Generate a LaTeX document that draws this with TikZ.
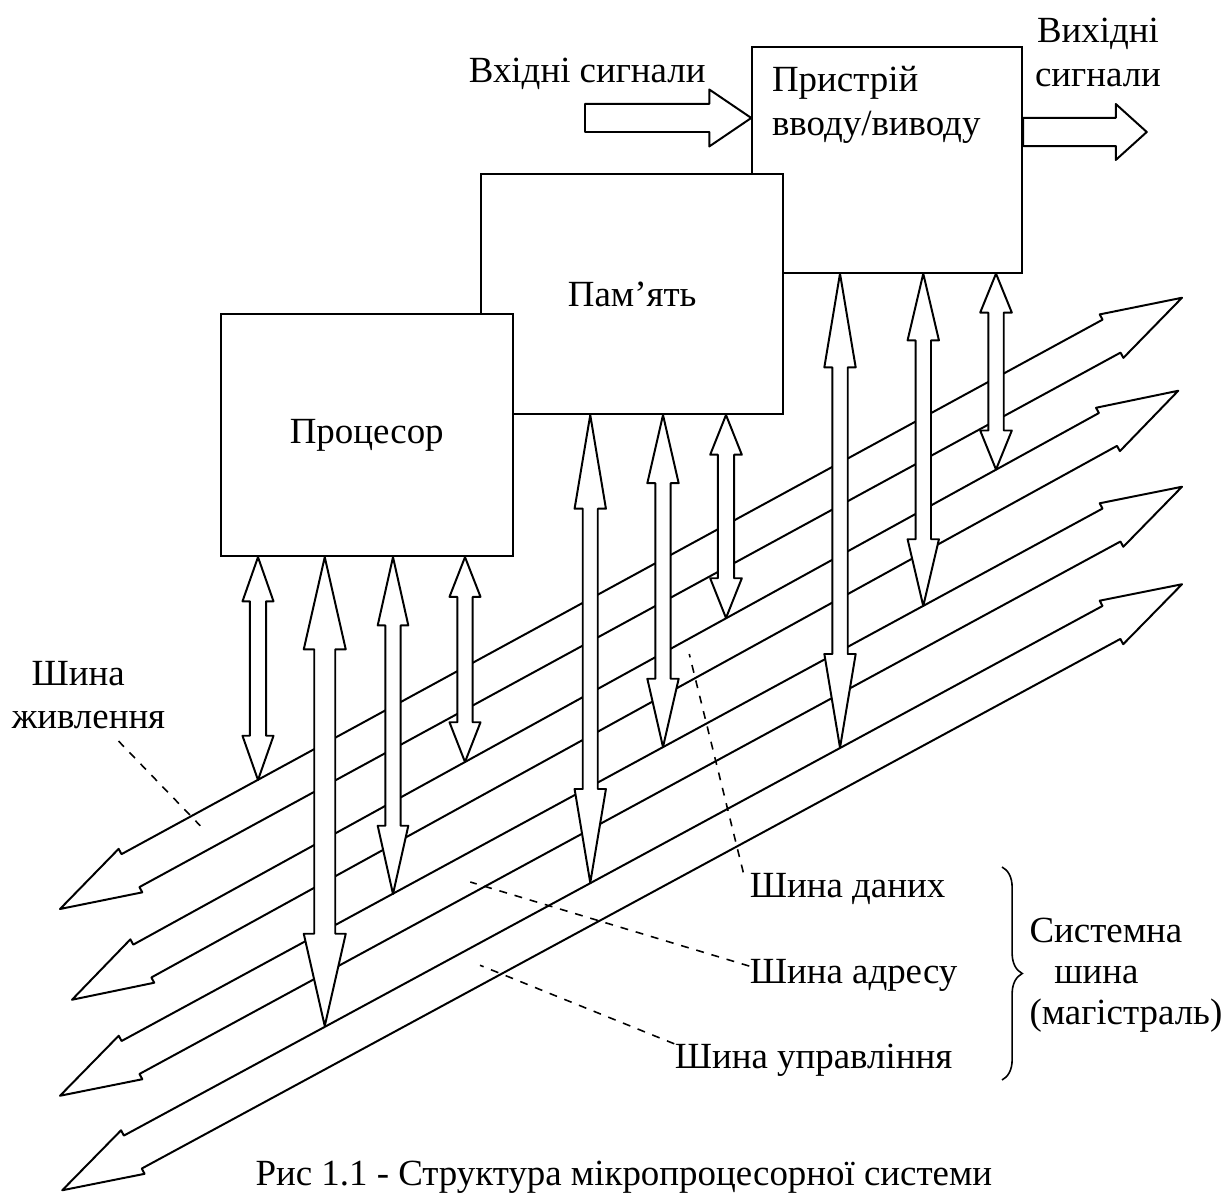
\documentclass[tikz,border=0pt]{standalone}
\usepackage{fontspec}
\setmainfont{Liberation Serif}
\usetikzlibrary{calc, positioning, decorations.pathreplacing}

% hollow double-headed block arrow: from, to, half shaft, half head, head length
\newcommand{\dblarrow}[5]{%
  \draw[blockarr] let \p1=($(#2)-(#1)$), \n1={atan2(\y1,\x1)} in
    (#1) -- ($(#1)+(\n1:#5)+(\n1+90:#4)$) -- ($(#1)+(\n1:#5)+(\n1+90:#3)$)
    -- ($(#2)+(\n1:-#5)+(\n1+90:#3)$) -- ($(#2)+(\n1:-#5)+(\n1+90:#4)$)
    -- (#2) -- ($(#2)+(\n1:-#5)+(\n1-90:#4)$) -- ($(#2)+(\n1:-#5)+(\n1-90:#3)$)
    -- ($(#1)+(\n1:#5)+(\n1-90:#3)$) -- ($(#1)+(\n1:#5)+(\n1-90:#4)$) -- cycle;
}
% hollow single-headed block arrow: from, to, half shaft, half head, head length
\newcommand{\sglarrow}[5]{%
  \draw[blockarr] let \p1=($(#2)-(#1)$), \n1={atan2(\y1,\x1)} in
    ($(#1)+(\n1+90:#3)$) -- ($(#2)+(\n1:-#5)+(\n1+90:#3)$) -- ($(#2)+(\n1:-#5)+(\n1+90:#4)$)
    -- (#2) -- ($(#2)+(\n1:-#5)+(\n1-90:#4)$) -- ($(#2)+(\n1:-#5)+(\n1-90:#3)$)
    -- ($(#1)+(\n1-90:#3)$) -- cycle;
}

\begin{document}
\begin{tikzpicture}[
    font=\fontsize{14}{16.5}\selectfont,
    box/.style={rectangle, draw, line width=0.75pt, fill=white},
    blockarr/.style={draw, line width=0.75pt, fill=white, line join=round},
    lbl/.style={inner sep=0pt},
    leader/.style={dashed, line width=0.6pt}
]
\useasboundingbox (0,0) rectangle (16.4,-15.933);

% System bus
\coordinate (pwrl) at (0.8,-12.12);   \coordinate (pwrr) at (15.76,-3.97);
\coordinate (datal) at (0.96,-13.33); \coordinate (datar) at (15.71,-5.21);
\coordinate (addrl) at (0.8,-14.61);  \coordinate (addrr) at (15.76,-6.49);
\coordinate (ctrll) at (0.83,-15.87); \coordinate (ctrlr) at (15.76,-7.79);

\dblarrow{pwrl}{pwrr}{0.25}{0.33}{1.07}
\dblarrow{datal}{datar}{0.25}{0.33}{1.07}
\dblarrow{addrl}{addrr}{0.25}{0.33}{1.07}
\dblarrow{ctrll}{ctrlr}{0.25}{0.33}{1.07}

% Blocks
\node[box, minimum width=3.6cm, minimum height=3.01cm] (io) at (11.83,-2.13) {};
\node[box, minimum width=4.03cm, minimum height=3.2cm] (mem) at (8.43,-3.92) {Пам’ять};
\node[box, minimum width=3.89cm, minimum height=3.23cm] (proc) at (4.89,-5.8) {Процесор};
\node[lbl, align=left, below right=0.27cm and 0.27cm of io.north west] (iotxt) {Пристрій\\вводу/виводу};

% Processor links
\coordinate (p1s) at (3.44,0 |- proc.south);  \coordinate (p1e) at (3.44,-10.4);
\coordinate (p2s) at (4.33,0 |- proc.south);  \coordinate (p2e) at (4.33,-13.68);
\coordinate (p3s) at (5.24,0 |- proc.south);  \coordinate (p3e) at (5.24,-11.92);
\coordinate (p4s) at (6.2,0 |- proc.south);   \coordinate (p4e) at (6.2,-10.16);
\dblarrow{p1s}{p1e}{0.107}{0.207}{0.59}
\dblarrow{p2s}{p2e}{0.14}{0.28}{1.23}
\dblarrow{p3s}{p3e}{0.103}{0.204}{0.91}
\dblarrow{p4s}{p4e}{0.103}{0.207}{0.53}

% Memory links
\coordinate (m1s) at (7.87,0 |- mem.south);   \coordinate (m1e) at (7.87,-11.77);
\coordinate (m2s) at (8.84,0 |- mem.south);   \coordinate (m2e) at (8.84,-9.96);
\coordinate (m3s) at (9.68,0 |- mem.south);   \coordinate (m3e) at (9.68,-8.24);
\dblarrow{m1s}{m1e}{0.1}{0.209}{1.25}
\dblarrow{m2s}{m2e}{0.103}{0.209}{0.91}
\dblarrow{m3s}{m3e}{0.107}{0.211}{0.53}

% I/O links
\coordinate (d1s) at (11.2,0 |- io.south);    \coordinate (d1e) at (11.2,-9.97);
\coordinate (d2s) at (12.31,0 |- io.south);   \coordinate (d2e) at (12.31,-8.08);
\coordinate (d3s) at (13.28,0 |- io.south);   \coordinate (d3e) at (13.28,-6.26);
\dblarrow{d1s}{d1e}{0.103}{0.209}{1.25}
\dblarrow{d2s}{d2e}{0.103}{0.209}{0.89}
\dblarrow{d3s}{d3e}{0.103}{0.211}{0.52}

% Input / output signals
\coordinate (inl) at (7.8,-1.573);
\coordinate (inr) at (io.west |- inl);
\sglarrow{inl}{inr}{0.187}{0.38}{0.56}
\coordinate (outl) at (io.east |- 0,-1.76);
\coordinate (outr) at (15.29,-1.76);
\sglarrow{outl}{outr}{0.187}{0.373}{0.413}

\node[lbl, anchor=base] (intxt) at (7.83,-1.1) {Вхідні сигнали};
\node[lbl, align=center] (outtxt) at (14.64,-0.7) {Вихідні\\сигнали};

% Bus labels
\node[lbl, align=left, anchor=west] (pwrlbl) at (0.15,-9.27) {\hspace*{0.54em}Шина\\живлення};
\node[lbl, anchor=base west] (datalbl) at (9.99,-11.96) {Шина даних};
\node[lbl, anchor=base west] (addrlbl) at (9.99,-13.11) {Шина адресу};
\node[lbl, anchor=base west] (ctrllbl) at (8.99,-14.25) {Шина управління};

\coordinate (pwrpt) at (2.67,-11.01);
\coordinate (datapt) at (9.19,-8.72);
\coordinate (addrpt) at (6.27,-11.76);
\coordinate (ctrlpt) at (6.4,-12.87);
\draw[leader] ([xshift=0.4cm,yshift=-0.15cm]pwrlbl.south) -- (pwrpt);
\draw[leader] ([xshift=-0.08cm]datalbl.north west) -- (datapt);
\draw[leader] ([yshift=-0.1cm]addrlbl.north west) -- (addrpt);
\draw[leader] (ctrllbl.north west) -- (ctrlpt);

% System bus brace
\coordinate (brtop) at (13.36,-11.56);
\coordinate (brbot) at (13.36,-14.4);
\draw[decorate, decoration={brace, amplitude=0.27cm}, line width=0.6pt] (brtop) -- (brbot);
\node[lbl, align=left, anchor=west, font=\fontsize{14}{15.5}\selectfont] (syslbl) at (13.72,-13.0) {Системна\\\hspace*{0.67em}шина\\(магістраль)};

\node[lbl, anchor=base west] (caption) at (3.4,-15.8) {Рис 1.1 - Структура мікропроцесорної системи};

\end{tikzpicture}
\end{document}
